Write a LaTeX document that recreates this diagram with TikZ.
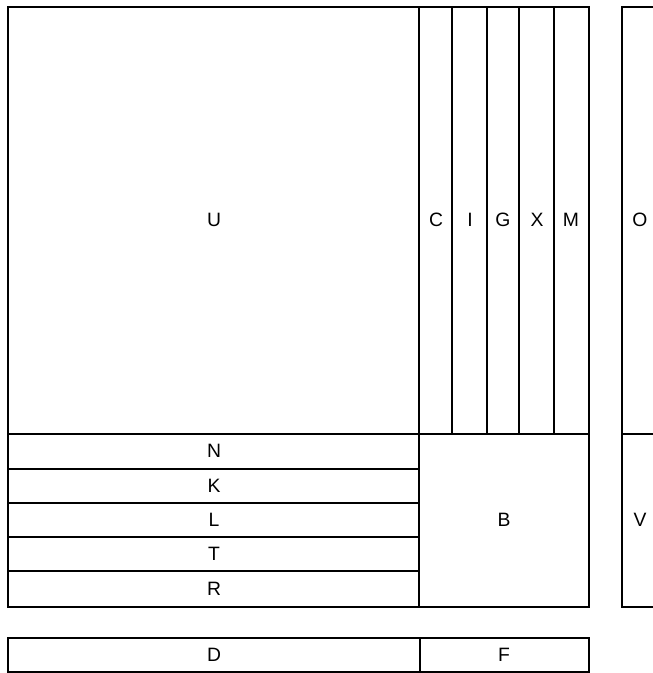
\documentclass[tikz,border=0pt]{standalone}
\usepackage{fontspec}
\setmainfont{Liberation Sans}
\tikzset{
  plan/.style={x=0.03cm, y=-0.03cm},
  outerline/.style={draw=black, line width=2.4pt},
  innerline/.style={draw=black, line width=1.2pt},
  cellname/.style={font=\fontsize{16.5}{18}\selectfont, inner sep=0pt},
}
\begin{document}
\begin{tikzpicture}[plan]
  \useasboundingbox (0,0) rectangle (653,673);
  \clip (0,0) rectangle (653,673);

  % main block: columns, rows, outline
  \draw[innerline] (8,434) -- (589,434);
  \draw[innerline] (419,7) -- (419,607);
  \foreach \x in {452,487,519,554}
    \draw[innerline] (\x,7) -- (\x,434);
  \foreach \y in {469,503,537,571}
    \draw[innerline] (8,\y) -- (419,\y);
  \draw[outerline] (8,7) rectangle (589,607);

  % side block
  \draw[innerline] (622,434) -- (665,434);
  \draw[outerline] (622,7) rectangle (665,607);

  % bottom strip
  \draw[innerline] (420,638) -- (420,672);
  \draw[outerline] (8,638) rectangle (589,672);

  % labels
  \node[cellname] (U) at (214,220) {U};
  \foreach \name/\x in {C/436,I/470,G/503,X/537,M/571}
    \node[cellname] (\name) at (\x,220) {\name};
  \foreach \name/\y in {N/451,K/486,L/520,T/554,R/589}
    \node[cellname] (\name) at (214,\y) {\name};
  \node[cellname] (B) at (504,520) {B};
  \node[cellname] (O) at (640,220) {O};
  \node[cellname] (V) at (640,520) {V};
  \node[cellname] (D) at (214,655) {D};
  \node[cellname] (F) at (504,655) {F};
\end{tikzpicture}
\end{document}
